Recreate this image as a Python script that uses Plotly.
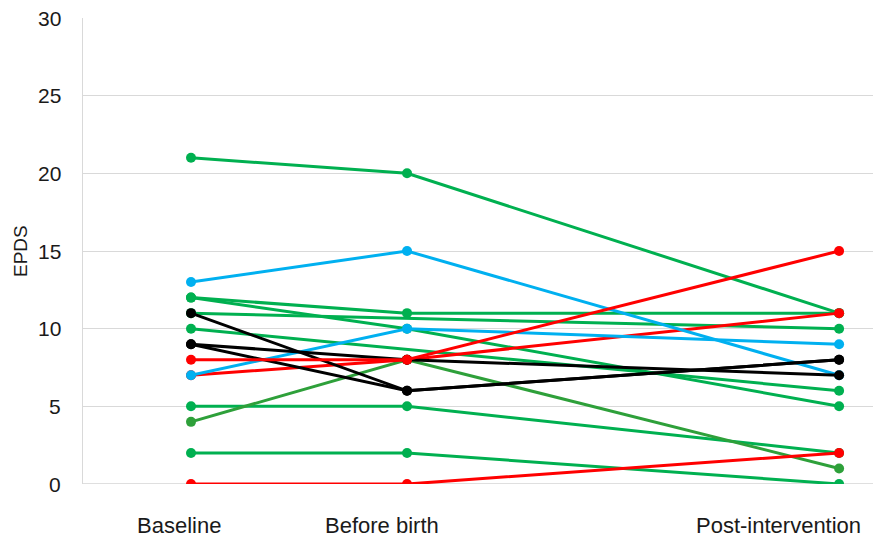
import plotly.graph_objects as go

# Category positions (an empty category sits between "Before birth" and "Post-intervention")
categories = ["Baseline", "Before birth", "Post-intervention"]
cat_pos = [0, 1, 3]
label_shift = [-12, -25, -61]  # label offsets in pixels as in the source
y_ticks = [0, 5, 10, 15, 20, 25, 30]

# Each participant's EPDS scores (None = missing, gap connected)
green_series = [
    [21, 20, 11],
    [12, 11, 11],
    [12, 10, 5],
    [11, None, 10],
    [10, None, 6],
    [5, 5, 2],
    [2, 2, 0],
]
darkgreen_series = [[4, 8, 1]]
red_series_low = [[0, 0, 2], [7, 8, 11]]
blue_series = [[7, 10, 9], [13, 15, 7]]
black_series = [[11, 6, 8], [9, 6, 8], [9, 8, 7]]
red_series_top = [[8, 8, 15]]

GREEN = "#00B050"
DARKGREEN = "#2EA03A"
RED = "#FF0000"
BLUE = "#00B0F0"
BLACK = "#000000"

fig = go.Figure()

def add(series_list, color):
    for s in series_list:
        fig.add_trace(go.Scatter(
            x=cat_pos, y=s, mode="lines+markers", connectgaps=True,
            line=dict(color=color, width=3),
            marker=dict(color=color, size=10),
            showlegend=False, hoverinfo="y",
        ))

add(green_series, GREEN)
add(darkgreen_series, DARKGREEN)
add(red_series_low, RED)
add(blue_series, BLUE)
add(black_series, BLACK)
add(red_series_top, RED)

FONT = "Liberation Sans, Arial, sans-serif"
TXT = "#1a1a1a"

# page body has an 8px default margin; size the figure to fit the 881x539 window
fig.update_layout(
    width=873, height=531,
    margin=dict(l=75, r=0, t=10, b=55),
    paper_bgcolor="white", plot_bgcolor="white",
    font=dict(family=FONT, size=22, color=TXT),
    xaxis=dict(
        range=[-0.5, 3.194], showticklabels=False,
        showgrid=False, zeroline=False, showline=False, automargin=False,
    ),
    yaxis=dict(
        range=[0, 30], tickvals=y_ticks, showticklabels=False,
        showgrid=True, gridcolor="#D9D9D9", gridwidth=1,
        zeroline=False, showline=True, linecolor="#D9D9D9", linewidth=1,
        automargin=False,
    ),
)

for v in y_ticks:
    fig.add_annotation(x=0, xref="paper", y=v, yref="y", text=str(v), showarrow=False,
                       xanchor="right", yanchor="middle", xshift=-20,
                       font=dict(family=FONT, size=21, color=TXT))

for c, p, s in zip(categories, cat_pos, label_shift):
    fig.add_annotation(x=p, xref="x", y=0, yref="paper", text=c, showarrow=False,
                       xanchor="center", yanchor="middle", xshift=s, yshift=-41,
                       font=dict(family=FONT, size=22, color=TXT))

fig.add_annotation(x=0, xref="paper", y=0.5, yref="paper", text="EPDS", showarrow=False,
                   textangle=-90, xanchor="center", yanchor="middle", xshift=-63,
                   font=dict(family=FONT, size=19, color=TXT))

# bottom axis line at 0
fig.add_shape(type="line", xref="paper", yref="y", x0=0, x1=1, y0=0, y1=0,
              line=dict(color="#BFBFBF", width=1), layer="below")

fig.write_html("out.html")
